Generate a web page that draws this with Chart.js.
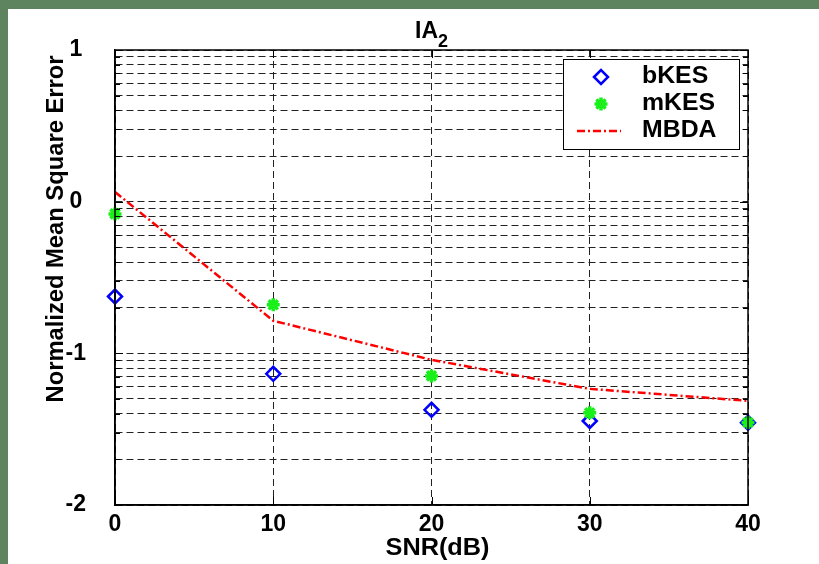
<!DOCTYPE html>
<html>
<head>
<meta charset="utf-8">
<title>IA2 - NMSE vs SNR</title>
<script src="https://cdn.jsdelivr.net/npm/chart.js@4.4.0/dist/chart.umd.min.js"></script>
<style>
  html, body { margin: 0; padding: 0; background: #fff; }
  canvas { display: block; }
</style>
</head>
<body>
<canvas id="nmseChart" width="819" height="564"></canvas>
<script>
// data
const snr = [0, 10, 20, 30, 40];
const bKES = [0.237, 0.0733, 0.0424, 0.0358, 0.0349];
const mKES = [0.830, 0.209, 0.0710, 0.0405, 0.0350];
const mbda = [1.159, 0.164, 0.0906, 0.0583, 0.0486];

// axis ticks (log decades with minor steps)
const xTicks = [0, 10, 20, 30, 40];
const yTicks = [
  0.01, 0.02, 0.03, 0.04, 0.05, 0.06, 0.07, 0.08, 0.09,
  0.1, 0.2, 0.3, 0.4, 0.5, 0.6, 0.7, 0.8, 0.9,
  1, 2, 3, 4, 5, 6, 7, 8, 9,
  10
];
const seriesNames = ["bKES", "mKES", "MBDA"];

const FAMILY = '"Liberation Sans", Arial, Helvetica, sans-serif';
const tickFont = { family: FAMILY, size: 23, weight: "bold" };
const gridDash = [7, 4];
const lineDash = [8, 3, 2, 3];
const BLUE = "#0000ff", GREEN = "#19ef19", RED = "#ff0000";

function pairs(ys) {
  return snr.map((x, i) => ({ x: x, y: ys[i] }));
}

function expLabel(v) {
  const e = Math.log10(v);
  if (Math.abs(e - Math.round(e)) < 1e-9) return String(Math.round(e));
  return "";
}

// draws text squeezed/stretched to a given width
function fitText(ctx, txt, cx, cy, font, width) {
  ctx.font = font;
  const w = ctx.measureText(txt).width;
  ctx.save();
  ctx.translate(cx, cy);
  ctx.scale(width / w, 1);
  ctx.textAlign = "center";
  ctx.textBaseline = "middle";
  ctx.fillText(txt, 0, 0);
  ctx.restore();
}

const decor = {
  id: "decor",
  beforeDraw(chart) {
    const c = chart.ctx;
    c.save();
    c.fillStyle = "#fff";
    c.fillRect(0, 0, chart.width, chart.height);
    c.restore();
  },
  afterDraw(chart) {
    const c = chart.ctx;
    const a = chart.chartArea;
    const xs = chart.scales.x, ys = chart.scales.y;
    c.save();

    // axis box
    c.strokeStyle = "#000";
    c.lineWidth = 1.5;
    c.setLineDash([]);
    c.strokeRect(a.left, a.top, a.right - a.left, a.bottom - a.top);

    // inward tick marks
    c.lineWidth = 1;
    c.beginPath();
    yTicks.forEach(v => {
      const py = Math.round(ys.getPixelForValue(v)) + 0.5;
      const len = expLabel(v) ? 8 : 5;
      c.moveTo(a.left, py); c.lineTo(a.left + len, py);
      c.moveTo(a.right - len, py); c.lineTo(a.right, py);
    });
    xTicks.forEach(v => {
      const px = Math.round(xs.getPixelForValue(v)) + 0.5;
      c.moveTo(px, a.bottom); c.lineTo(px, a.bottom - 8);
      c.moveTo(px, a.top); c.lineTo(px, a.top + 8);
    });
    c.stroke();

    // titles
    c.fillStyle = "#000";
    fitText(c, "SNR(dB)", (a.left + a.right) / 2 + 6, 549, "bold 23px " + FAMILY, 104);
    c.save();
    c.translate(56, 229);
    c.rotate(-Math.PI / 2);
    fitText(c, "Normalized Mean Square Error", 0, 0, "bold 24px " + FAMILY, 347);
    c.restore();

    // IA with subscript 2
    const mid = (a.left + a.right) / 2;
    c.font = "bold 23px " + FAMILY;
    const wIA = c.measureText("IA").width;
    c.font = "bold 18px " + FAMILY;
    const w2 = c.measureText("2").width;
    let x0 = mid - (wIA + w2) / 2;
    c.textAlign = "left";
    c.textBaseline = "alphabetic";
    c.font = "bold 23px " + FAMILY;
    c.fillText("IA", x0, 38);
    c.font = "bold 18px " + FAMILY;
    c.fillText("2", x0 + wIA, 47);

    // legend box
    const lx = a.right - 185, ly = a.top + 9, lw = 176, lh = 90;
    c.fillStyle = "#fff";
    c.fillRect(lx, ly, lw, lh);
    c.strokeStyle = "#000";
    c.lineWidth = 1;
    c.strokeRect(lx + 0.5, ly + 0.5, lw, lh);

    const rowY = [ly + 18, ly + 45, ly + 72];
    const mx = lx + 38;
    // bKES marker
    c.strokeStyle = BLUE; c.fillStyle = "rgba(0,0,0,0)"; c.lineWidth = 2.5;
    Chart.helpers.drawPoint(c, { pointStyle: "rectRot", radius: 7, rotation: 0, borderWidth: 2.5 }, mx, rowY[0]);
    // mKES marker
    c.strokeStyle = GREEN; c.lineWidth = 3.5;
    Chart.helpers.drawPoint(c, { pointStyle: "star", radius: 6.5, rotation: 0, borderWidth: 3.5 }, mx, rowY[1]);
    // MBDA line sample
    c.strokeStyle = RED; c.lineWidth = 2.5;
    c.setLineDash(lineDash);
    c.beginPath(); c.moveTo(lx + 14, rowY[2]); c.lineTo(lx + 58, rowY[2]); c.stroke();
    c.setLineDash([]);

    c.fillStyle = "#000";
    c.font = "bold 23px " + FAMILY;
    seriesNames.forEach((n, i) => {
      const w = c.measureText(n).width * 1.08;
      fitText(c, n, lx + 79 + w / 2, rowY[i], "bold 23px " + FAMILY, w);
    });

    // green frame of the figure window
    c.fillStyle = "#5e845f";
    c.fillRect(0, 0, chart.width, 9);
    c.fillRect(0, 0, 8, chart.height);
    c.restore();
  }
};

new Chart(document.getElementById("nmseChart"), {
  type: "line",
  data: {
    datasets: [
      {
        label: seriesNames[2],
        data: pairs(mbda),
        borderColor: RED,
        borderWidth: 2.5,
        borderDash: lineDash,
        pointRadius: 0,
        fill: false,
        tension: 0,
        clip: false,
        order: 3
      },
      {
        label: seriesNames[0],
        data: pairs(bKES),
        showLine: false,
        pointStyle: "rectRot",
        pointRadius: 7,
        pointBorderWidth: 2.5,
        borderColor: BLUE,
        backgroundColor: "rgba(0,0,0,0)",
        clip: false,
        order: 2
      },
      {
        label: seriesNames[1],
        data: pairs(mKES),
        showLine: false,
        pointStyle: "star",
        pointRadius: 6.5,
        pointBorderWidth: 3.5,
        borderColor: GREEN,
        backgroundColor: GREEN,
        clip: false,
        order: 1
      }
    ]
  },
  options: {
    responsive: false,
    animation: false,
    devicePixelRatio: 1,
    layout: { padding: { left: 0, right: 71, top: 50, bottom: 0 } },
    plugins: {
      legend: { display: false },
      title: { display: false },
      tooltip: { enabled: false }
    },
    scales: {
      x: {
        type: "linear",
        min: 0,
        max: 40,
        afterBuildTicks: s => { s.ticks = xTicks.map(v => ({ value: v })); },
        afterFit: s => { s.height = 59; },
        grid: { color: "#222", lineWidth: 1, drawTicks: false },
        border: { display: true, color: "#000", width: 1.5, dash: gridDash },
        ticks: { font: tickFont, color: "#000", padding: 6, maxRotation: 0, autoSkip: false }
      },
      y: {
        type: "logarithmic",
        min: 0.01,
        max: 10,
        afterBuildTicks: s => { s.ticks = yTicks.map(v => ({ value: v })); },
        afterFit: s => { s.width = 115; },
        grid: { color: "#222", lineWidth: 1, drawTicks: false },
        border: { display: true, color: "#000", width: 1.5, dash: gridDash },
        ticks: {
          font: tickFont,
          color: "#000",
          padding: 29,
          crossAlign: "center",
          autoSkip: false,
          callback: v => expLabel(v)
        }
      }
    }
  },
  plugins: [decor]
});
</script>
</body>
</html>
